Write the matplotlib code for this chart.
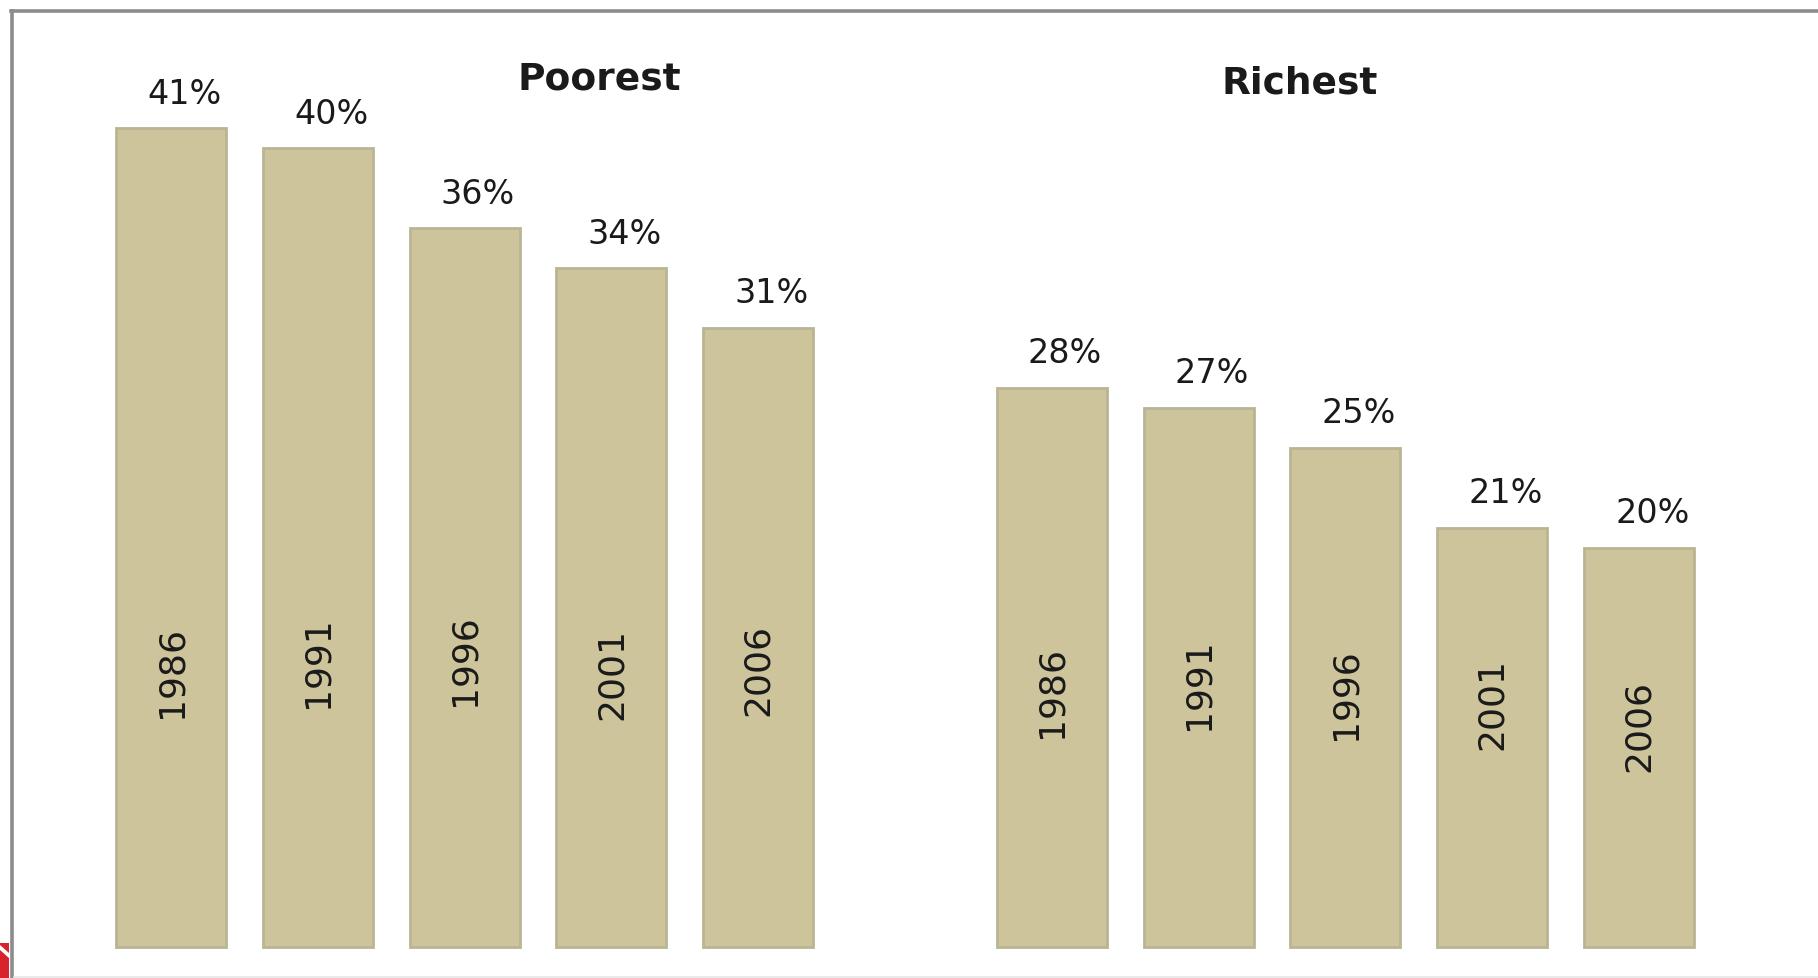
import matplotlib
matplotlib.use("Agg")
import matplotlib.pyplot as plt
from matplotlib.patches import Rectangle, Polygon
from matplotlib.lines import Line2D

# Share of income, by year, for the poorest and richest groups
years = ["1986", "1991", "1996", "2001", "2006"]
poorest = [41, 40, 36, 34, 31]
richest = [28, 27, 25, 21, 20]
group_titles = ["Poorest", "Richest"]

BAR_FILL = "#CDC49B"
BAR_EDGE = "#B9B593"
TEXT = "#1a1a1a"

fig = plt.figure(figsize=(18.18, 9.79), dpi=100)
ax = fig.add_axes([0, 0, 1, 1])
ax.set_xlim(-1.165, 11.219)
ax.set_ylim(-1.552, 47.47)
ax.axis("off")

pos_poor = [0, 1, 2, 3, 4]
pos_rich = [6, 7, 8, 9, 10]
bar_w = 0.75

# height (in % units) at which each rotated year label sits inside its bar
year_label_y = [[13.8, 14.3, 14.4, 13.7, 13.9],
                [12.8, 13.2, 12.7, 12.2, 11.1]]

for g, (pos, vals) in enumerate([(pos_poor, poorest), (pos_rich, richest)]):
    ax.bar(pos, vals, width=bar_w, color=BAR_FILL, edgecolor=BAR_EDGE,
           linewidth=2.0, zorder=2)
    for i, (x, v) in enumerate(zip(pos, vals)):
        ax.text(x + 0.09, v + 1.75, f"{v}%", ha="center", va="center",
                fontsize=24, color=TEXT, family="DejaVu Sans", zorder=3)
        ax.text(x, year_label_y[g][i], years[i], ha="center", va="center",
                rotation=90, fontsize=26, color=TEXT,
                family="DejaVu Sans", zorder=3)

ax.text(2.915, 43.5, group_titles[0], ha="center", va="center",
        fontsize=27, fontweight="bold", color=TEXT, family="DejaVu Sans")
ax.text(7.69, 43.3, group_titles[1], ha="center", va="center",
        fontsize=27, fontweight="bold", color=TEXT, family="DejaVu Sans")

# frame lines along the top and left edges
W, H = 1818.0, 979.0
fig.add_artist(Line2D([12 / W, 12 / W], [0, 1 - 12 / H], transform=fig.transFigure,
                      color="#8c8c8c", linewidth=2.6))
fig.add_artist(Line2D([11 / W, 1], [1 - 12 / H, 1 - 12 / H], transform=fig.transFigure,
                      color="#8c8c8c", linewidth=2.6))
fig.add_artist(Line2D([14 / W, 1], [1.5 / H, 1.5 / H], transform=fig.transFigure,
                      color="#e6e6e6", linewidth=1.2))

# small red corner badge at the bottom left
fig.add_artist(Rectangle((0, 0), 9 / W, 35 / H, transform=fig.transFigure,
                         facecolor="#d8222c", edgecolor="none"))
fig.add_artist(Polygon([(0, 33 / H), (0, 28 / H), (9 / W, 20 / H), (9 / W, 25 / H)],
                       closed=True, transform=fig.transFigure,
                       facecolor="white", edgecolor="none"))

fig.savefig("out.png", dpi=100, facecolor="white")
